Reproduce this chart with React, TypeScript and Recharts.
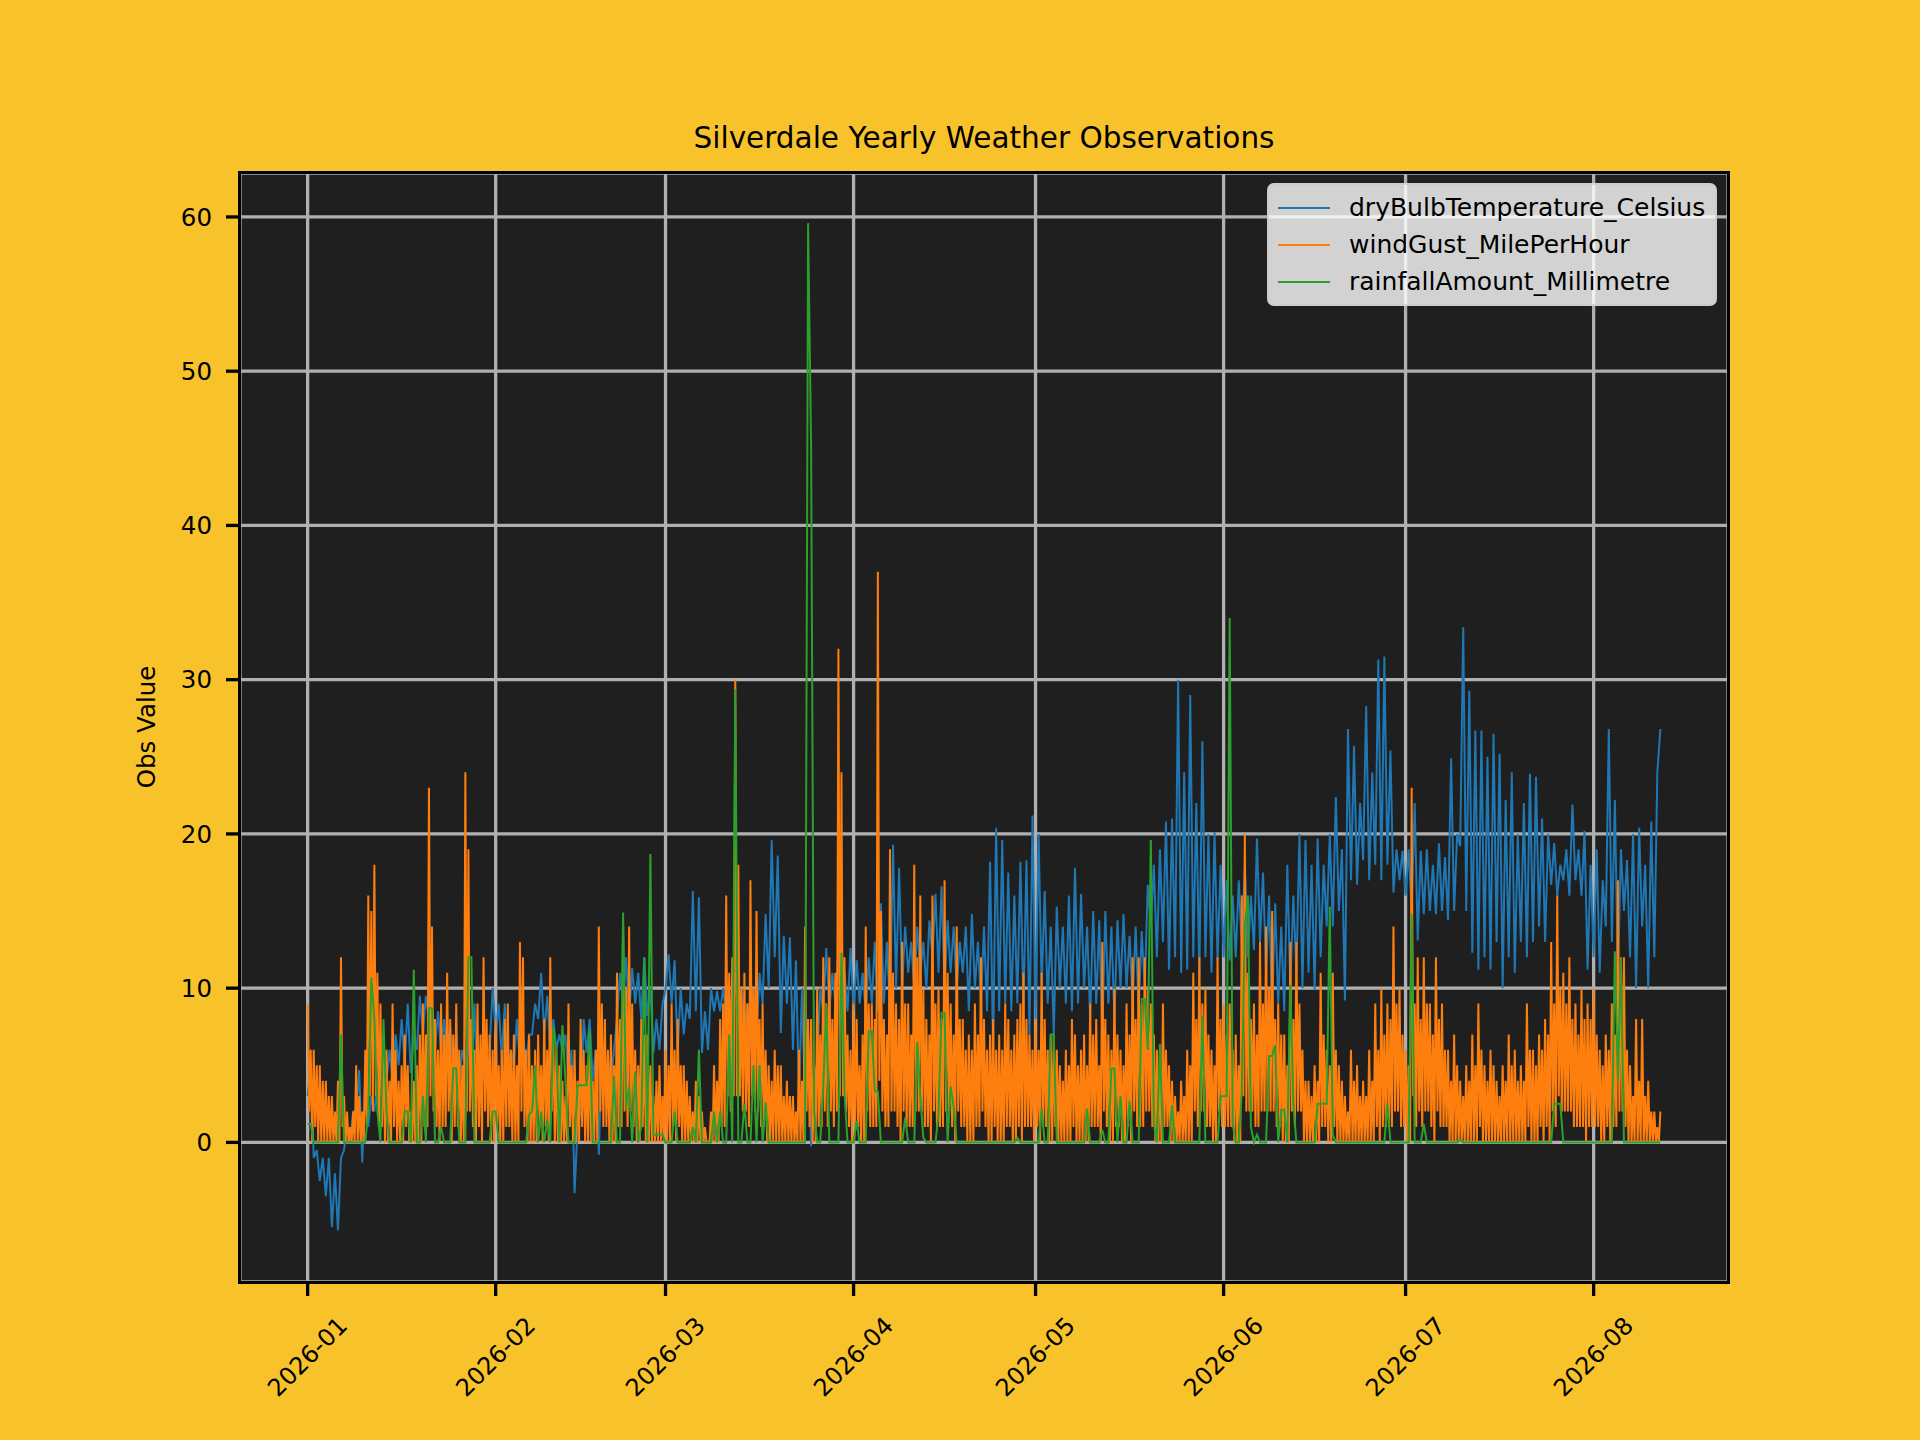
import { LineChart, Line, XAxis, YAxis, CartesianGrid, Legend } from 'recharts';

// Temperature and rainfall every half day, gusts every six hours, from 2026-01-01 00:00
const STEP_DAYS = 0.5;
const GUST_STEP_DAYS = 0.25;

const tempC = [
  3, 5, -1, -0.5, -2.5, -1, -3.5, -1, -5.5, -2, -5.7, -1, -0.5, 1, 0, 2, 2, 4.7, -1.3, 4,
  1, 3, 2, 4, 3, 5, 4, 6, 4, 7, 5, 8, 5, 9, 4.5, 7, 6, 9.5, 7, 9.5,
  8, 9, 6, 8.5, 6, 8, 5, 7.5, 5, 7, 4, 6, 5, 7, 4, 9, 3, 6, 4, 6,
  6, 10, 7, 9, 5.5, 9, 4, 6, 5, 8, 5, 7, 5, 7, 7, 9, 8, 11, 7, 9.5,
  6, 8, 6, 7, 6, 7, 4, 6, -3.3, 1, 2, 8, 5.8, 8, 4, 6, -0.8, 5.8, 3.9, 5.6,
  4, 6, 8, 11, 9, 12, 8.2, 11.3, 9, 11, 8, 12, 8.2, 10, 5.8, 8, 6, 9, 9.9, 12.2,
  9, 11.8, 5.8, 10, 7, 9, 8, 16.3, 8.5, 15.9, 5.8, 8.5, 6, 10, 8.5, 9.8, 8.5, 10, 8, 10,
  7, 11, 8, 10, 7, 9, 6, 10, 7, 11, 9, 14.8, 10, 19.6, 12, 18.6, 7.1, 13.4, 9, 13.3,
  6, 11.8, 3, 10, 2, 7, -0.25, 4, 5, 10, 8.5, 12.6, 8.5, 11, 9, 12.6, 8, 11, 8.5, 12.6,
  8.5, 11.8, 9, 11, 8.5, 12, 9, 13, 8.5, 15.5, 9, 13, 8.5, 19.3, 10, 17.8, 10, 14, 11, 13,
  10, 14, 11, 13, 10, 14.4, 12, 16.1, 11, 16.6, 10, 14.4, 11, 14, 10, 13, 11, 14, 8.5, 14.8,
  10, 13, 9, 14, 8.5, 18.2, 5.8, 20.4, 8.5, 19.6, 9, 17.5, 8.5, 16, 9, 18.2, 8.5, 18.3, 7, 21.2,
  8, 20, 10, 16.3, 9, 14, 7, 15.3, 10, 14, 9, 16, 8.5, 17.8, 9, 16.1, 10, 14, 8, 15,
  9, 14.4, 7, 15, 9, 14, 8, 14.4, 10, 14.8, 10, 13.4, 9, 14, 8.5, 13.7, 10, 16.7, 14, 18,
  12, 19, 13, 20.8, 11.2, 21, 12, 30, 11, 24, 11.2, 29, 12, 22, 10.7, 26, 12, 20, 11, 20.1,
  11.8, 18, 12, 17, 11.8, 16, 12, 17, 12.5, 18, 12, 16, 12.5, 19.7, 13, 17.5, 11, 16, 8.8, 15.5,
  9, 14, 8.5, 18, 10, 16, 11, 20, 10, 19.6, 11, 18, 9.9, 19.7, 12, 18, 14, 20, 14, 22.4,
  15, 19, 9.2, 26.8, 17, 25.7, 16.7, 22, 18.3, 28.3, 17, 24, 18, 31.3, 17, 31.5, 18, 25.4, 16.2, 19,
  17, 18.9, 16, 19, 15, 22, 13.1, 18.9, 14.8, 19, 15, 18, 14.8, 19.4, 15, 18.5, 14.4, 24.9, 15, 20,
  19.2, 33.4, 15, 29.3, 12.3, 26.7, 11.2, 26.7, 12, 25, 11.2, 26.5, 13, 25.2, 10, 22.2, 12, 24, 11, 20,
  13, 22, 12, 23.9, 13, 23.7, 14, 21, 13, 20, 16.7, 19.4, 16, 18, 17, 19, 16, 21.9, 17, 19,
  16, 20.2, 11.2, 18, 12, 19, 11, 17, 14, 26.8, 13, 22.2, 10.7, 19, 15, 18.3, 12, 20, 10, 20.4,
  14, 18, 10, 20.8, 12, 24, 26.8,
];

const gustMph = [
  9, 2, 6, 0, 6, 1, 5, 0, 5, 0, 4, 0, 4, 0, 3, 0, 3, 0, 2, 0, 4, 0, 12, 1, 3, 0, 2, 0, 1, 0, 2, 0, 5, 0, 3, 0, 2, 0, 6, 1,
  16, 3, 15, 2, 18, 3, 11, 1, 9, 1, 6, 0, 6, 0, 4, 0, 9, 1, 6, 0, 4, 0, 5, 0, 7, 1, 5, 0, 2, 0, 4, 0, 5, 0, 7, 0, 9, 1, 7, 1,
  23, 3, 14, 2, 8, 1, 6, 0, 9, 1, 7, 1, 11, 2, 8, 0, 7, 1, 9, 1, 6, 0, 5, 0, 24, 2, 19, 2, 8, 1, 6, 0, 9, 1, 7, 0, 12, 2, 8, 1,
  7, 0, 6, 0, 8, 1, 5, 0, 6, 0, 8, 1, 9, 1, 6, 0, 7, 0, 5, 0, 13, 2, 12, 1, 6, 0, 7, 0, 5, 0, 6, 0, 7, 1, 5, 0, 8, 1, 6, 0,
  12, 2, 7, 0, 6, 0, 5, 0, 4, 0, 3, 0, 9, 1, 5, 0, 6, 0, 4, 0, 8, 1, 6, 0, 5, 0, 7, 0, 4, 0, 6, 0, 14, 2, 9, 1, 8, 1, 6, 0,
  7, 0, 5, 0, 11, 1, 8, 1, 14, 2, 10, 1, 14, 2, 9, 1, 6, 0, 5, 0, 8, 1, 7, 0, 7, 0, 5, 0, 3, 0, 4, 0, 5, 0, 3, 0, 6, 0, 5, 0,
  9, 1, 6, 0, 8, 1, 5, 0, 5, 0, 4, 0, 3, 0, 2, 0, 4, 0, 3, 0, 2, 0, 1, 0, 0, 0, 2, 0, 5, 0, 4, 0, 8, 1, 9, 1, 16, 3, 11, 2,
  12, 3, 30, 3, 18, 3, 10, 2, 11, 2, 9, 1, 17, 3, 10, 2, 15, 2, 8, 1, 9, 1, 6, 0, 5, 0, 4, 0, 6, 0, 5, 0, 5, 0, 3, 0, 4, 0, 3, 0,
  3, 0, 2, 0, 6, 0, 4, 0, 14, 2, 8, 1, 8, 0, 5, 0, 10, 1, 7, 1, 12, 2, 9, 1, 12, 2, 8, 1, 11, 2, 32, 3, 24, 3, 12, 2, 7, 1, 6, 0,
  9, 1, 8, 1, 5, 0, 7, 0, 14, 2, 9, 1, 9, 1, 8, 1, 37, 4, 15, 2, 8, 1, 7, 1, 19, 2, 11, 2, 9, 1, 8, 0, 13, 2, 9, 1, 9, 1, 7, 1,
  18, 2, 12, 2, 16, 2, 10, 1, 8, 1, 7, 0, 16, 2, 9, 1, 10, 1, 8, 1, 17, 2, 11, 2, 9, 1, 7, 0, 14, 2, 8, 1, 8, 1, 6, 0, 7, 0, 6, 0,
  9, 1, 7, 1, 12, 2, 8, 1, 6, 0, 7, 0, 8, 1, 6, 0, 7, 0, 6, 0, 9, 1, 8, 1, 6, 0, 7, 0, 8, 1, 9, 0, 11, 1, 8, 1, 7, 1, 6, 0,
  8, 1, 6, 0, 11, 1, 8, 1, 6, 0, 7, 0, 7, 1, 6, 0, 5, 0, 4, 0, 6, 0, 5, 0, 8, 1, 7, 0, 5, 0, 6, 0, 7, 0, 5, 0, 9, 1, 7, 1,
  8, 1, 5, 0, 13, 2, 8, 1, 7, 0, 6, 0, 10, 1, 7, 1, 6, 0, 5, 0, 9, 1, 7, 0, 12, 2, 8, 1, 12, 1, 9, 1, 12, 2, 10, 2, 9, 1, 7, 0,
  6, 0, 5, 0, 9, 1, 6, 1, 5, 0, 4, 0, 3, 0, 2, 0, 4, 0, 3, 0, 6, 0, 5, 0, 11, 2, 8, 1, 12, 2, 9, 2, 10, 1, 7, 1, 6, 0, 5, 0,
  12, 2, 8, 1, 9, 1, 7, 1, 9, 1, 6, 0, 7, 0, 5, 0, 16, 3, 20, 2, 11, 2, 8, 2, 9, 1, 7, 1, 13, 2, 9, 2, 14, 2, 10, 2, 15, 2, 8, 1,
  9, 1, 7, 0, 7, 0, 5, 0, 13, 2, 8, 1, 13, 2, 9, 2, 6, 0, 4, 0, 4, 0, 3, 0, 5, 0, 4, 0, 11, 1, 7, 1, 6, 0, 5, 0, 11, 1, 6, 0,
  5, 0, 4, 0, 3, 0, 2, 0, 6, 0, 4, 0, 5, 0, 3, 0, 4, 0, 3, 0, 6, 0, 4, 0, 9, 1, 6, 0, 10, 1, 7, 1, 9, 1, 8, 1, 14, 2, 9, 2,
  10, 1, 7, 1, 6, 0, 5, 0, 23, 3, 9, 1, 12, 2, 8, 1, 12, 2, 9, 2, 9, 1, 7, 0, 12, 2, 8, 1, 9, 1, 6, 1, 6, 0, 4, 0, 7, 0, 5, 0,
  4, 0, 3, 0, 5, 0, 4, 0, 7, 0, 5, 0, 9, 1, 6, 0, 5, 0, 4, 0, 6, 0, 5, 0, 4, 0, 3, 0, 5, 0, 4, 0, 7, 0, 5, 0, 6, 0, 4, 0,
  5, 0, 4, 0, 9, 1, 6, 0, 6, 0, 5, 0, 7, 1, 6, 0, 8, 1, 7, 0, 13, 2, 9, 1, 16, 3, 10, 2, 11, 2, 9, 2, 12, 2, 8, 1, 9, 1, 7, 1,
  10, 1, 8, 0, 9, 1, 8, 1, 10, 1, 7, 1, 6, 0, 5, 0, 7, 1, 6, 0, 9, 1, 7, 1, 17, 2, 12, 2, 12, 1, 6, 0, 5, 0, 3, 0, 8, 0, 4, 0,
  8, 0, 3, 0, 4, 0, 2, 0, 2, 0, 1, 0, 2,
];

const rainMm = [
  1.2, 1.2, 0, 0, 0, 0, 0, 0, 0, 0, 0, 7, 0, 0, 0, 0, 0, 0, 0, 0,
  2, 10.7, 8, 2, 0, 8, 2, 0, 0, 0, 0, 0, 2, 2, 0, 11.2, 0, 0, 3, 0,
  8.7, 8.7, 0, 0, 1, 0, 0, 0, 4.8, 4.8, 0, 0, 0, 12, 12, 0, 0, 0, 0, 0,
  0, 2, 2, 0, 0, 0, 0, 0, 0, 0, 0, 0, 0, 1.8, 2, 5, 0, 2, 0, 1.5,
  0, 7.5, 6, 0, 7.6, 4, 0, 0, 0, 3.7, 3.7, 3.7, 3.7, 7.3, 0, 0, 0, 0, 0, 0,
  0, 4.3, 0, 0, 14.9, 2.2, 3.6, 0, 4.6, 0, 1, 12, 0, 18.7, 0.5, 0.5, 0.5, 0.5, 0, 0,
  0, 2, 0, 0, 0, 0, 0, 1, 0, 6, 0, 0, 0, 0, 2, 0, 2, 0, 0, 7,
  0, 29.4, 0, 0, 2.5, 0, 0, 5, 0, 5, 0, 2.6, 0, 0, 0, 0, 0, 0, 0, 0,
  0, 0, 0, 0, 0, 59.6, 45, 2, 0, 0, 3.6, 9, 0, 0, 0, 0, 12.3, 3.3, 0, 0,
  0, 1.4, 0, 0, 0, 7.2, 7.2, 3.3, 3.3, 0, 0, 0, 0, 0, 0, 0, 0, 1.6, 0, 0,
  0, 6.5, 3, 0.3, 0, 0, 0, 0, 1.8, 8.4, 8.4, 0, 3.6, 2.3, 0, 0, 0, 0, 0, 0,
  0, 0, 0, 0, 0, 0, 0, 0, 0, 0, 0, 0, 0, 0, 0.3, 0, 0, 0, 0, 0,
  0, 0, 2.2, 0, 0, 7, 7, 0, 0, 0, 0, 0, 0, 0, 0, 0, 0, 2.2, 0, 0,
  0, 0, 0.8, 0, 0, 4.8, 4.8, 0, 3, 0, 0, 2.7, 0, 0, 0, 9.3, 9.3, 6, 19.6, 1.2,
  0, 6.4, 0, 0, 0, 2.4, 0, 0, 0, 0, 0, 0, 0, 0, 0, 8.2, 0, 0, 0, 0,
  0, 3, 3, 3, 34, 1.2, 0, 0, 3.3, 14, 16, 1, 0, 0.5, 0, 0, 0, 5.6, 5.6, 6.3,
  0, 2.1, 2.1, 0, 10.2, 2.5, 0, 0, 0, 0, 0, 0, 0, 2.5, 2.5, 2.5, 2.5, 15.3, 0.5, 0,
  0, 0, 0, 0, 0, 0, 0, 0, 0, 0, 0, 0, 0, 0, 0, 0, 2.5, 0, 0, 0,
  0, 0, 0, 0, 14.8, 0, 0, 0, 1.2, 0, 0, 0, 0, 0, 0, 0, 0, 0, 0, 0,
  0.2, 0, 0, 0, 0, 0, 0, 0, 0, 0, 0, 0, 0, 0, 0, 0, 0, 0, 0, 0,
  0, 0, 0, 0, 0, 0, 0, 0, 0, 0, 0, 2.5, 2.5, 2.5, 0, 0, 0, 0, 0, 0,
  0, 0, 0, 0, 0, 0, 0, 0, 0, 0, 0, 12.4, 4, 12, 0, 0, 0, 0, 0, 0,
  0, 0, 0, 0, 0, 0, 0,
];

// Month starts, in days since 2026-01-01
const monthDays = [0, 31, 59, 90, 120, 151, 181, 212];
const monthLabels = ['2026-01', '2026-02', '2026-03', '2026-04', '2026-05', '2026-06', '2026-07', '2026-08'];
const valueTicks = [0, 10, 20, 30, 40, 50, 60];

const seriesNames = ['dryBulbTemperature_Celsius', 'windGust_MilePerHour', 'rainfallAmount_Millimetre'];
const seriesColors = ['#1f77b4', '#ff7f0e', '#2ca02c'];

const FONT = '"DejaVu Sans", Verdana, sans-serif';
const BG = '#f8c32a';

const data = tempC.map((temp, i) => ({ day: i * STEP_DAYS, temp, rain: rainMm[i] }));
const gustData = gustMph.map((gust, i) => ({ day: i * GUST_STEP_DAYS, gust }));

function MonthTick({ x, y, payload }: any) {
  const idx = monthDays.indexOf(payload.value);
  const cy = y + 47;
  return (
    <text
      x={x}
      y={cy}
      transform={`rotate(-45 ${x} ${cy})`}
      textAnchor="middle"
      dominantBaseline="central"
      fill="#000"
      fontSize={24}
      fontFamily={FONT}
    >
      {monthLabels[idx]}
    </text>
  );
}

function LegendBox() {
  return (
    <div
      style={{
        boxSizing: 'border-box',
        width: 450,
        height: 123,
        paddingTop: 4,
        background: 'rgba(255,255,255,0.8)',
        border: '2px solid rgba(204,204,204,0.8)',
        borderRadius: 7,
        fontFamily: FONT,
        fontSize: 25,
        color: '#000',
      }}
    >
      {seriesNames.map((name, i) => (
        <div key={name} style={{ display: 'flex', alignItems: 'center', height: 37 }}>
          <div style={{ marginLeft: 9, width: 52, height: 2, background: seriesColors[i] }} />
          <span style={{ marginLeft: 19, whiteSpace: 'nowrap' }}>{name}</span>
        </div>
      ))}
    </div>
  );
}

export default function App() {
  return (
    <div style={{ position: 'absolute', left: 0, top: 0, width: 1920, height: 1440, background: BG }}>
      <LineChart
        width={1920}
        height={1440}
        data={data}
        margin={{ top: 173, right: 192, bottom: 58, left: 140 }}
      >
        <CartesianGrid fill="#1f1f1f" stroke="#b0b0b0" strokeWidth={3.3} />
        <XAxis
          type="number"
          dataKey="day"
          domain={[-11.15, 234.15]}
          ticks={monthDays}
          allowDataOverflow
          height={100}
          axisLine={false}
          tickSize={14}
          tickMargin={14}
          tickLine={{ stroke: '#000', strokeWidth: 3.3 }}
          tick={<MonthTick />}
          interval={0}
        />
        <YAxis
          type="number"
          domain={[-9.05, 62.85]}
          ticks={valueTicks}
          allowDataOverflow
          width={100}
          axisLine={false}
          tickSize={14}
          tickMargin={14}
          tickLine={{ stroke: '#000', strokeWidth: 3.3 }}
          tick={{ fill: '#000', fontSize: 24.5, fontFamily: FONT }}
          interval={0}
        />
        <Legend
          layout="vertical"
          align="center"
          verticalAlign="middle"
          content={<LegendBox />}
          wrapperStyle={{ left: 1267, top: 183, width: 450, height: 123 }}
        />
        <Line type="linear" dataKey="temp" name={seriesNames[0]} stroke={seriesColors[0]} strokeWidth={2} dot={false} activeDot={false} isAnimationActive={false} />
        <Line type="linear" data={gustData} dataKey="gust" name={seriesNames[1]} stroke={seriesColors[1]} strokeWidth={2} dot={false} activeDot={false} isAnimationActive={false} />
        <Line type="linear" dataKey="rain" name={seriesNames[2]} stroke={seriesColors[2]} strokeWidth={2} dot={false} activeDot={false} isAnimationActive={false} />
      </LineChart>
      {/* axes frame */}
      <div
        style={{
          position: 'absolute',
          left: 238.35,
          top: 171.35,
          width: 1491.3,
          height: 1112.3,
          boxSizing: 'border-box',
          border: '3.3px solid #000',
          pointerEvents: 'none',
        }}
      />
      <svg width={1920} height={1440} style={{ position: 'absolute', left: 0, top: 0, pointerEvents: 'none' }}>
        <text x={984} y={148} textAnchor="middle" fontSize={29.5} fontFamily={FONT} fill="#000">
          Silverdale Yearly Weather Observations
        </text>
        <text x={155} y={727} transform="rotate(-90 155 727)" textAnchor="middle" fontSize={24.5} fontFamily={FONT} fill="#000">
          Obs Value
        </text>
      </svg>
    </div>
  );
}
